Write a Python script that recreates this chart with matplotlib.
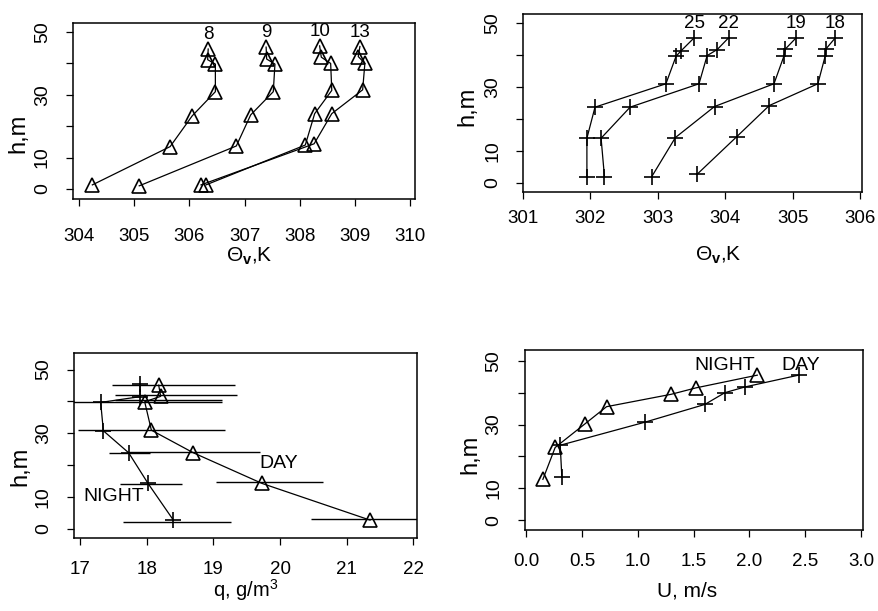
import matplotlib
matplotlib.use("Agg")
import matplotlib.pyplot as plt

plt.rcParams['font.family'] = ['Liberation Sans', 'DejaVu Sans']
plt.rcParams['mathtext.fontset'] = 'custom'
plt.rcParams['mathtext.rm'] = 'Liberation Sans'
plt.rcParams['mathtext.it'] = 'Liberation Sans:italic'
plt.rcParams['mathtext.bf'] = 'Liberation Sans:bold'

# --- panel a: day profiles of theta_v (triangles) ---
day_names = ["8", "9", "10", "13"]
day_theta = [
    [304.24, 305.65, 306.05, 306.47, 306.47, 306.33, 306.34],
    [305.09, 306.85, 307.11, 307.52, 307.55, 307.40, 307.39],
    [306.30, 308.10, 308.27, 308.58, 308.56, 308.39, 308.36],
    [306.21, 308.26, 308.58, 309.14, 309.18, 309.06, 309.09],
]
day_h = [
    [1.3, 13.5, 23.3, 31.0, 39.8, 41.2, 44.6],
    [1.0, 13.7, 23.6, 31.0, 39.8, 41.4, 45.2],
    [1.3, 14.0, 24.0, 31.4, 40.0, 42.0, 45.6],
    [1.3, 14.4, 24.0, 31.6, 40.0, 42.2, 45.4],
]

# --- panel b: night profiles of theta_v (pluses) ---
night_names = ["25", "22", "19", "18"]
night_theta = [
    [301.95, 301.95, 302.07, 303.12, 303.27, 303.34, 303.54],
    [302.21, 302.16, 302.59, 303.61, 303.73, 303.88, 304.05],
    [302.91, 303.26, 303.84, 304.72, 304.87, 304.89, 305.05],
    [303.58, 304.17, 304.65, 305.37, 305.48, 305.49, 305.63],
]
night_h = [
    [1.9, 13.9, 23.6, 30.9, 39.5, 41.1, 45.3],
    [1.9, 13.9, 23.6, 30.9, 39.7, 41.6, 45.3],
    [1.9, 14.1, 23.8, 30.9, 39.7, 41.8, 45.3],
    [2.6, 14.4, 24.1, 30.9, 39.7, 41.8, 45.3],
]

# --- panel c: humidity q ---
q_day = [21.35, 19.73, 18.70, 18.07, 17.97, 18.21, 18.18]
q_day_h = [2.8, 14.3, 23.9, 31.0, 39.9, 41.6, 45.1]
q_night = [18.40, 18.02, 17.73, 17.35, 17.31, 17.90, 17.90]
q_night_h = [2.8, 14.3, 23.9, 30.8, 39.7, 41.5, 45.5]
# horizontal spread bars: height, left end, right end
bar_h = [2.3, 3.0, 14.0, 14.6, 23.7, 24.0, 30.9, 39.7, 40.3, 42.0, 45.1]
bar_lo = [17.64, 20.46, 17.60, 19.04, 17.43, 17.70, 16.97, 16.82, 17.52, 17.52, 17.48]
bar_hi = [19.27, 22.30, 18.53, 20.65, 18.05, 19.70, 19.18, 19.13, 19.13, 19.35, 19.33]

# --- panel d: wind speed U ---
u_night = [0.15, 0.26, 0.53, 0.72, 1.30, 1.52, 2.07]
u_night_h = [12.8, 22.8, 30.3, 35.6, 39.5, 41.5, 45.5]
u_day = [0.32, 0.305, 1.06, 1.60, 1.78, 1.96, 2.44]
u_day_h = [13.4, 23.5, 30.7, 36.3, 40.0, 41.8, 45.5]

h_ticks = [0, 10, 20, 30, 40, 50]
h_ticklabels = ["0", "10", "", "30", "", "50"]
u_ticks = [0.0, 0.5, 1.0, 1.5, 2.0, 2.5, 3.0]
u_ticklabels = ["0.0", "0.5", "1.0", "1.5", "2.0", "2.5", "3.0"]

tri = dict(marker='^', ms=10, mfc='none', mec='black', mew=1.2,
           color='black', lw=0.9)
plus = dict(marker='+', ms=11, mew=1.2, color='black', lw=0.9)

fig = plt.figure(figsize=(8.79, 6.11), dpi=100)
ax1 = fig.add_axes([0.0831, 0.6743, 0.3891, 0.2881])
ax2 = fig.add_axes([0.5947, 0.6863, 0.3857, 0.2908])
ax3 = fig.add_axes([0.0842, 0.1190, 0.3899, 0.3028])
ax4 = fig.add_axes([0.5973, 0.1326, 0.3849, 0.2946])


def style(ax, xpad, ypad):
    ax.set_yticks(h_ticks)
    ax.set_yticklabels(h_ticklabels)
    ax.tick_params(direction='out', length=5, width=0.9)
    ax.tick_params(axis='x', pad=xpad, labelsize=13.5)
    ax.tick_params(axis='y', pad=ypad, labelrotation=90, labelsize=14)
    for lab in ax.get_yticklabels():
        lab.set_va('center')
    for s in ax.spines.values():
        s.set_linewidth(1.1)


for xs, hs, name in zip(day_theta, day_h, day_names):
    ax1.plot(xs, hs, **tri)
    ax1.text(xs[-1], hs[-1] + 4.6, name, ha='center', va='center', fontsize=13.5)
ax1.set_xlim(303.89, 310.09)
ax1.set_ylim(-3.2, 52.9)
ax1.set_xticks(range(304, 311))
style(ax1, 16, 11)
ax1.set_xlabel(r'$\Theta_{\mathbf{v}}$,K', fontsize=15, va='top')
ax1.xaxis.set_label_coords(0.515, -0.265)
ax1.set_ylabel('h,m', fontsize=17)
ax1.yaxis.set_label_coords(-0.128, 0.37)

for xs, hs, name in zip(night_theta, night_h, night_names):
    ax2.plot(xs, hs, **plus)
    ax2.text(xs[-1], hs[-1] + 4.3, name, ha='center', va='center', fontsize=13.5)
ax2.set_xlim(301.0, 306.02)
ax2.set_ylim(-2.8, 52.7)
ax2.set_xticks(range(301, 307))
style(ax2, 8, 10.5)
ax2.set_xlabel(r'$\Theta_{\mathbf{v}}$,K', fontsize=15, va='top')
ax2.xaxis.set_label_coords(0.578, -0.30)
ax2.set_ylabel('h,m', fontsize=17)
ax2.yaxis.set_label_coords(-0.132, 0.48)

ax3.hlines(bar_h, bar_lo, bar_hi, color='black', lw=1.0)
ax3.plot(q_night, q_night_h, **plus)
ax3.plot(q_day, q_day_h, **tri)
ax3.text(19.98, 20.6, 'DAY', ha='center', va='center', fontsize=14)
ax3.text(17.5, 10.1, 'NIGHT', ha='center', va='center', fontsize=14)
ax3.set_xlim(16.91, 22.05)
ax3.set_ylim(-2.9, 55.1)
ax3.set_xticks(range(17, 23))
style(ax3, 11.5, 11)
ax3.set_xlabel(r'q, g/m$^3$', fontsize=14.5, va='top')
ax3.xaxis.set_label_coords(0.5, -0.21)
ax3.set_ylabel('h,m', fontsize=17)
ax3.yaxis.set_label_coords(-0.123, 0.39)

ax4.plot(u_night, u_night_h, **tri)
ax4.plot(u_day, u_day_h, **plus)
ax4.text(1.78, 48.6, 'NIGHT', ha='center', va='center', fontsize=14)
ax4.text(2.46, 48.6, 'DAY', ha='center', va='center', fontsize=14)
ax4.set_xlim(-0.01, 3.02)
ax4.set_ylim(-3.1, 53.4)
ax4.set_xticks(u_ticks)
ax4.set_xticklabels(u_ticklabels)
style(ax4, 11.5, 11.5)
ax4.set_xlabel('U, m/s', fontsize=15, va='top')
ax4.xaxis.set_label_coords(0.48, -0.285)
ax4.set_ylabel('h,m', fontsize=17)
ax4.yaxis.set_label_coords(-0.128, 0.42)

fig.savefig("out.png", dpi=100)
